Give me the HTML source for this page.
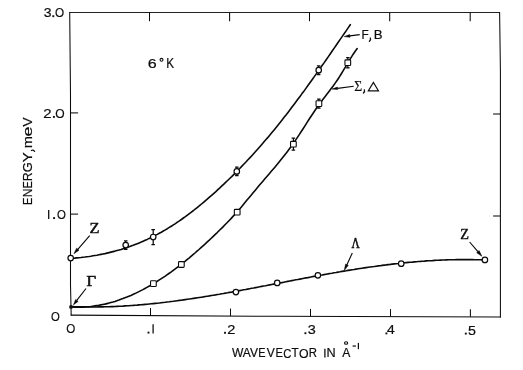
<!DOCTYPE html>
<html><head><meta charset="utf-8">
<style>
html,body{margin:0;padding:0;background:#fff;}
body{width:523px;height:370px;overflow:hidden;}
svg{display:block;filter:grayscale(1);}
text{fill:#0d0d0d;stroke:#0d0d0d;stroke-width:0.2;}
.fr{stroke:#0a0a0a;stroke-width:1.05;fill:none;}
.cv{stroke:#0a0a0a;stroke-width:1.6;fill:none;stroke-linecap:round;stroke-linejoin:round;}
.mk{stroke:#0a0a0a;stroke-width:1.2;fill:#fff;}
.eb{stroke:#0a0a0a;stroke-width:1.25;fill:none;}
.ar{stroke:#050505;stroke-width:1.1;}
.ah{fill:#050505;stroke:#050505;stroke-width:0.5;stroke-linejoin:round;}
.bar{stroke:#111;stroke-width:1.3;}
.ring{fill:none;stroke:#111;stroke-width:1.1;}
</style></head><body>
<svg width="523" height="370" viewBox="0 0 523 370">
<rect width="523" height="370" fill="#fff"/>
<path d="M69.7,12.4 L500.0,12.5" class="fr" style="stroke:#222"/><path d="M69.7,12.0 L70.5,95 L70.5,285 L71.2,315.6" class="fr"/><path d="M499.6,12.0 L500.4,70 L500.4,317.4" class="fr"/><path d="M70.7,315.1 L275,316.3 L500.9,316.9" class="fr"/><line x1="149.5" y1="12.4" x2="149.5" y2="21.2" class="fr"/><line x1="150.5" y1="315.6" x2="150.5" y2="308.1" class="fr"/><line x1="229.6" y1="12.4" x2="229.6" y2="21.2" class="fr"/><line x1="230.5" y1="316.0" x2="230.5" y2="308.5" class="fr"/><line x1="309.5" y1="12.4" x2="309.5" y2="21.2" class="fr"/><line x1="310.5" y1="316.4" x2="310.5" y2="308.9" class="fr"/><line x1="389.7" y1="12.4" x2="389.7" y2="21.2" class="fr"/><line x1="390.5" y1="316.6" x2="390.5" y2="309.1" class="fr"/><line x1="470.2" y1="12.4" x2="470.2" y2="21.2" class="fr"/><line x1="470.4" y1="316.8" x2="470.4" y2="309.3" class="fr"/><line x1="70.5" y1="112.9" x2="78.1" y2="112.9" class="fr"/><line x1="500.4" y1="114.0" x2="493.1" y2="114.0" class="fr"/><line x1="70.5" y1="214.1" x2="78.1" y2="214.1" class="fr"/><line x1="500.4" y1="216.0" x2="493.1" y2="216.0" class="fr"/>
<path d="M70.8,258.4 L72.8,258.2 L74.8,258.1 L76.8,257.9 L78.8,257.7 L80.9,257.5 L82.9,257.2 L84.9,257.0 L86.9,256.7 L88.9,256.5 L90.9,256.2 L92.9,255.8 L94.9,255.5 L96.9,255.2 L99.0,254.8 L101.0,254.4 L103.0,254.0 L105.0,253.6 L107.0,253.1 L109.0,252.6 L111.0,252.1 L113.0,251.6 L115.0,251.1 L117.0,250.5 L119.1,250.0 L121.1,249.4 L123.1,248.7 L125.1,248.1 L127.1,247.4 L129.1,246.7 L131.1,246.0 L133.1,245.3 L135.1,244.5 L137.2,243.7 L139.2,242.9 L141.2,242.1 L143.2,241.2 L145.2,240.3 L147.2,239.4 L149.2,238.4 L151.2,237.5 L153.2,236.5 L155.3,235.4 L157.3,234.4 L159.3,233.3 L161.3,232.2 L163.3,231.0 L165.3,229.9 L167.3,228.7 L169.3,227.4 L171.3,226.2 L173.4,224.9 L175.4,223.6 L177.4,222.2 L179.4,220.9 L181.4,219.5 L183.4,218.0 L185.4,216.6 L187.4,215.1 L189.4,213.6 L191.4,212.1 L193.5,210.5 L195.5,208.9 L197.5,207.3 L199.5,205.7 L201.5,204.0 L203.5,202.3 L205.5,200.6 L207.5,198.9 L209.5,197.1 L211.6,195.4 L213.6,193.6 L215.6,191.8 L217.6,189.9 L219.6,188.1 L221.6,186.2 L223.6,184.3 L225.6,182.4 L227.6,180.5 L229.7,178.5 L231.7,176.6 L233.7,174.6 L235.7,172.6 L237.7,170.5 L239.7,168.5 L241.7,166.4 L243.7,164.3 L245.7,162.2 L247.7,160.0 L249.8,157.9 L251.8,155.7 L253.8,153.5 L255.8,151.3 L257.8,149.0 L259.8,146.7 L261.8,144.4 L263.8,142.1 L265.8,139.8 L267.9,137.4 L269.9,135.0 L271.9,132.6 L273.9,130.2 L275.9,127.7 L277.9,125.2 L279.9,122.7 L281.9,120.2 L283.9,117.6 L286.0,115.0 L288.0,112.4 L290.0,109.8 L292.0,107.1 L294.0,104.5 L296.0,101.8 L298.0,99.1 L300.0,96.4 L302.0,93.6 L304.1,90.9 L306.1,88.1 L308.1,85.3 L310.1,82.5 L312.1,79.7 L314.1,76.9 L316.1,74.1 L318.1,71.2 L320.1,68.4 L322.1,65.5 L324.2,62.6 L326.2,59.7 L328.2,56.9 L330.2,54.0 L332.2,51.0 L334.2,48.1 L336.2,45.2 L338.2,42.3 L340.2,39.4 L342.3,36.4 L344.3,33.5 L346.3,30.6 L348.3,27.6 L350.3,24.7" class="cv"/>
<path d="M70.8,306.9 L72.8,307.0 L74.8,307.1 L76.8,307.1 L78.8,307.2 L80.8,307.1 L82.8,307.1 L84.8,307.0 L86.8,306.8 L88.8,306.7 L90.8,306.5 L92.8,306.2 L94.8,305.9 L96.8,305.6 L98.8,305.3 L100.8,304.9 L102.8,304.5 L104.8,304.1 L106.9,303.6 L108.9,303.1 L110.9,302.5 L112.9,302.0 L114.9,301.4 L116.9,300.7 L118.9,300.1 L120.9,299.3 L122.9,298.6 L124.9,297.8 L126.9,297.1 L128.9,296.2 L130.9,295.4 L132.9,294.5 L134.9,293.6 L136.9,292.6 L138.9,291.6 L140.9,290.6 L142.9,289.6 L144.9,288.5 L146.9,287.4 L148.9,286.3 L150.9,285.1 L152.9,284.0 L154.9,282.7 L156.9,281.5 L158.9,280.2 L160.9,278.9 L162.9,277.6 L164.9,276.3 L166.9,274.9 L168.9,273.5 L170.9,272.1 L172.9,270.6 L174.9,269.1 L176.9,267.6 L179.0,266.1 L181.0,264.5 L183.0,263.0 L185.0,261.4 L187.0,259.7 L189.0,258.1 L191.0,256.4 L193.0,254.7 L195.0,253.0 L197.0,251.2 L199.0,249.5 L201.0,247.7 L203.0,245.9 L205.0,244.1 L207.0,242.2 L209.0,240.4 L211.0,238.5 L213.0,236.6 L215.0,234.7 L217.0,232.8 L219.0,230.8 L221.0,228.8 L223.0,226.9 L225.0,224.8 L227.0,222.8 L229.0,220.7 L231.0,218.6 L233.0,216.4 L235.0,214.2 L237.0,212.0 L239.0,209.7 L241.0,207.4 L243.0,205.0 L245.0,202.6 L247.0,200.1 L249.0,197.7 L251.1,195.3 L253.1,192.8 L255.1,190.4 L257.1,188.0 L259.1,185.6 L261.1,183.2 L263.1,180.9 L265.1,178.5 L267.1,176.2 L269.1,173.9 L271.1,171.6 L273.1,169.2 L275.1,166.9 L277.1,164.5 L279.1,162.1 L281.1,159.6 L283.1,157.1 L285.1,154.6 L287.1,152.0 L289.1,149.3 L291.1,146.6 L293.1,143.8 L295.1,140.9 L297.1,137.9 L299.1,134.9 L301.1,131.8 L303.1,128.7 L305.1,125.6 L307.1,122.4 L309.1,119.3 L311.1,116.2 L313.1,113.2 L315.1,110.2 L317.1,107.3 L319.1,104.4 L321.1,101.7 L323.2,99.0 L325.2,96.4 L327.2,93.8 L329.2,91.2 L331.2,88.6 L333.2,85.9 L335.2,83.1 L337.2,80.2 L339.2,77.2 L341.2,74.0 L343.2,70.7 L345.2,67.3 L347.2,64.0 L349.2,60.6 L351.2,57.4 L353.2,54.2 L355.2,51.3 L357.2,48.6" class="cv"/>
<path d="M70.8,306.6 L72.8,306.6 L74.8,306.7 L76.8,306.8 L78.8,306.8 L80.8,306.9 L82.9,306.9 L84.9,306.9 L86.9,307.0 L88.9,307.0 L90.9,307.0 L92.9,307.0 L94.9,307.0 L96.9,307.0 L98.9,306.9 L100.9,306.9 L102.9,306.9 L105.0,306.8 L107.0,306.8 L109.0,306.7 L111.0,306.6 L113.0,306.6 L115.0,306.5 L117.0,306.4 L119.0,306.3 L121.0,306.2 L123.0,306.1 L125.0,305.9 L127.1,305.8 L129.1,305.7 L131.1,305.5 L133.1,305.4 L135.1,305.2 L137.1,305.1 L139.1,304.9 L141.1,304.8 L143.1,304.6 L145.1,304.4 L147.2,304.2 L149.2,304.0 L151.2,303.8 L153.2,303.6 L155.2,303.4 L157.2,303.2 L159.2,303.0 L161.2,302.7 L163.2,302.5 L165.2,302.3 L167.2,302.0 L169.3,301.8 L171.3,301.5 L173.3,301.3 L175.3,301.0 L177.3,300.7 L179.3,300.4 L181.3,300.2 L183.3,299.9 L185.3,299.6 L187.3,299.3 L189.3,299.0 L191.4,298.7 L193.4,298.4 L195.4,298.1 L197.4,297.8 L199.4,297.5 L201.4,297.2 L203.4,296.9 L205.4,296.5 L207.4,296.2 L209.4,295.9 L211.4,295.5 L213.5,295.2 L215.5,294.9 L217.5,294.5 L219.5,294.2 L221.5,293.8 L223.5,293.5 L225.5,293.1 L227.5,292.8 L229.5,292.4 L231.5,292.1 L233.5,291.7 L235.6,291.3 L237.6,291.0 L239.6,290.6 L241.6,290.2 L243.6,289.8 L245.6,289.5 L247.6,289.1 L249.6,288.7 L251.6,288.3 L253.6,288.0 L255.6,287.6 L257.7,287.2 L259.7,286.8 L261.7,286.4 L263.7,286.0 L265.7,285.7 L267.7,285.3 L269.7,284.9 L271.7,284.5 L273.7,284.1 L275.7,283.7 L277.8,283.3 L279.8,282.9 L281.8,282.6 L283.8,282.2 L285.8,281.8 L287.8,281.4 L289.8,281.0 L291.8,280.6 L293.8,280.2 L295.8,279.8 L297.8,279.5 L299.9,279.1 L301.9,278.7 L303.9,278.3 L305.9,277.9 L307.9,277.6 L309.9,277.2 L311.9,276.8 L313.9,276.4 L315.9,276.1 L317.9,275.7 L319.9,275.3 L322.0,275.0 L324.0,274.6 L326.0,274.2 L328.0,273.9 L330.0,273.5 L332.0,273.2 L334.0,272.8 L336.0,272.5 L338.0,272.1 L340.0,271.8 L342.0,271.4 L344.1,271.1 L346.1,270.8 L348.1,270.4 L350.1,270.1 L352.1,269.8 L354.1,269.5 L356.1,269.1 L358.1,268.8 L360.1,268.5 L362.1,268.2 L364.1,267.9 L366.2,267.6 L368.2,267.3 L370.2,267.0 L372.2,266.7 L374.2,266.5 L376.2,266.2 L378.2,265.9 L380.2,265.7 L382.2,265.4 L384.2,265.1 L386.2,264.9 L388.3,264.6 L390.3,264.4 L392.3,264.1 L394.3,263.9 L396.3,263.7 L398.3,263.5 L400.3,263.2 L402.3,263.0 L404.3,262.8 L406.3,262.6 L408.3,262.4 L410.4,262.2 L412.4,262.1 L414.4,261.9 L416.4,261.7 L418.4,261.5 L420.4,261.4 L422.4,261.2 L424.4,261.1 L426.4,260.9 L428.4,260.8 L430.5,260.7 L432.5,260.6 L434.5,260.4 L436.5,260.3 L438.5,260.2 L440.5,260.1 L442.5,260.0 L444.5,260.0 L446.5,259.9 L448.5,259.8 L450.5,259.8 L452.6,259.7 L454.6,259.7 L456.6,259.6 L458.6,259.6 L460.6,259.6 L462.6,259.6 L464.6,259.6 L466.6,259.6 L468.6,259.6 L470.6,259.6 L472.6,259.6 L474.7,259.7 L476.7,259.7 L478.7,259.8 L480.7,259.8 L482.7,259.9 L484.7,260.0" class="cv"/>
<circle cx="71.0" cy="306.9" r="1.9" fill="#111"/>
<circle cx="70.7" cy="258.1" r="2.75" class="mk"/><path d="M125.7,240.8 V249.4 M124.0,240.8 H127.5 M124.0,249.4 H127.5" class="eb"/><circle cx="125.7" cy="245.1" r="2.75" class="mk"/><path d="M153.2,229.5 V244.5 M151.4,229.5 H154.9 M151.4,244.5 H154.9" class="eb"/><circle cx="153.2" cy="237.0" r="2.75" class="mk"/><path d="M236.8,167.2 V175.6 M235.1,167.2 H238.6 M235.1,175.6 H238.6" class="eb"/><circle cx="236.8" cy="171.4" r="2.75" class="mk"/><path d="M318.7,65.8 V74.6 M316.9,65.8 H320.4 M316.9,74.6 H320.4" class="eb"/><circle cx="318.7" cy="70.2" r="2.75" class="mk"/><rect x="150.55" y="280.75" width="5.7" height="5.7" rx="0.8" class="mk" style="stroke-width:1.1"/><rect x="178.50" y="261.65" width="5.7" height="5.7" rx="0.8" class="mk" style="stroke-width:1.1"/><rect x="234.35" y="209.35" width="5.7" height="5.7" rx="0.8" class="mk" style="stroke-width:1.1"/><path d="M293.4,138.1 V150.2 M291.6,138.1 H295.1 M291.6,150.2 H295.1" class="eb"/><rect x="290.55" y="141.35" width="5.7" height="5.7" rx="0.8" class="mk" style="stroke-width:1.1"/><path d="M318.9,99.0 V108.2 M317.1,99.0 H320.6 M317.1,108.2 H320.6" class="eb"/><rect x="316.05" y="100.75" width="5.7" height="5.7" rx="0.8" class="mk" style="stroke-width:1.1"/><path d="M347.8,57.6 V67.8 M346.1,57.6 H349.6 M346.1,67.8 H349.6" class="eb"/><rect x="344.95" y="59.85" width="5.7" height="5.7" rx="0.8" class="mk" style="stroke-width:1.1"/><circle cx="235.9" cy="292.1" r="2.75" class="mk"/><circle cx="277.2" cy="282.9" r="2.75" class="mk"/><circle cx="317.9" cy="275.3" r="2.75" class="mk"/><circle cx="401.2" cy="263.7" r="2.75" class="mk"/><circle cx="484.9" cy="259.9" r="2.75" class="mk"/><line x1="89.7" y1="235.7" x2="77.8" y2="249.3" class="ar"/><polygon points="73.9,253.7 76.6,248.2 79.0,250.3" class="ah"/><line x1="86.0" y1="288.5" x2="76.8" y2="300.4" class="ar"/><polygon points="73.5,304.8 75.6,299.5 78.1,301.4" class="ah"/><line x1="359.7" y1="34.6" x2="349.9" y2="35.9" class="ar"/><polygon points="344.2,36.6 349.7,34.5 350.0,37.3" class="ah"/><line x1="353.7" y1="86.3" x2="337.6" y2="88.4" class="ar"/><polygon points="332.0,89.1 337.4,87.1 337.7,89.6" class="ah"/><line x1="352.3" y1="253.0" x2="346.9" y2="264.7" class="ar"/><polygon points="344.2,270.6 345.6,264.1 348.3,265.3" class="ah"/><line x1="469.6" y1="242.0" x2="477.9" y2="251.6" class="ar"/><polygon points="481.8,256.2 476.7,252.7 479.1,250.6" class="ah"/><text transform="translate(43.64,17.00) scale(1.068,1)" font-size="13.14" font-family="Liberation Sans">3</text>
<text transform="translate(54.91,17.00) scale(0.895,1)" font-size="13.14" font-family="Liberation Sans">O</text>
<text transform="translate(43.35,117.70) scale(1.141,1)" font-size="13.14" font-family="Liberation Sans">2</text>
<text transform="translate(55.20,117.70) scale(0.918,1)" font-size="13.14" font-family="Liberation Sans">O</text>
<text transform="translate(57.03,219.00) scale(0.873,1)" font-size="13.14" font-family="Liberation Sans">O</text>
<text transform="translate(50.93,320.50) scale(0.871,1)" font-size="13.00" font-family="Liberation Sans">O</text>
<text transform="translate(66.32,333.00) scale(0.894,1)" font-size="13.00" font-family="Liberation Sans">O</text>
<text transform="translate(227.37,333.60) scale(1.133,1)" font-size="12.86" font-family="Liberation Sans">2</text>
<text transform="translate(307.82,334.10) scale(1.101,1)" font-size="13.14" font-family="Liberation Sans">3</text>
<text transform="translate(387.02,334.10) scale(1.130,1)" font-size="12.32" font-family="Liberation Sans">4</text>
<text transform="translate(467.93,334.50) scale(1.069,1)" font-size="13.33" font-family="Liberation Sans">5</text>
<text transform="translate(231.88,357.40) scale(0.955,1)" font-size="12.61" font-family="Liberation Sans">WAV</text>
<text transform="translate(258.23,357.40) scale(0.867,1)" font-size="12.61" font-family="Liberation Sans">E</text>
<text transform="translate(266.78,357.40) scale(0.952,1)" font-size="12.61" font-family="Liberation Sans">V</text>
<text transform="translate(275.41,357.40) scale(0.881,1)" font-size="12.61" font-family="Liberation Sans">E</text>
<text transform="translate(283.34,357.50) scale(0.886,1)" font-size="12.71" font-family="Liberation Sans">C</text>
<text transform="translate(291.46,357.40) scale(0.932,1)" font-size="12.61" font-family="Liberation Sans">T</text>
<text transform="translate(298.98,357.50) scale(0.972,1)" font-size="12.71" font-family="Liberation Sans">O</text>
<text transform="translate(308.79,357.40) scale(0.901,1)" font-size="12.61" font-family="Liberation Sans">R</text>
<text transform="translate(326.59,357.40) scale(1.006,1)" font-size="12.61" font-family="Liberation Sans">N</text>
<text transform="translate(342.30,357.40) scale(0.973,1)" font-size="12.46" font-family="Liberation Sans">A</text>
<text transform="translate(147.80,67.70) scale(1.185,1)" font-size="13.57" font-family="Liberation Sans">6</text>
<text transform="translate(166.26,67.70) scale(0.854,1)" font-size="13.77" font-family="Liberation Sans">K</text>
<text transform="translate(361.45,38.60) scale(0.972,1)" font-size="12.17" font-family="Liberation Sans">F</text>
<text transform="translate(373.64,38.60) scale(1.085,1)" font-size="12.17" font-family="Liberation Sans">B</text>
<text transform="translate(354.15,90.80) scale(0.999,1)" font-size="13.69" font-family="Liberation Serif">Σ</text>
<text transform="translate(89.58,232.70) scale(1.139,1)" font-size="14.46" font-family="Liberation Serif" style="stroke-width:0.4">Z</text>
<text transform="translate(86.60,285.60) scale(1.120,1)" font-size="14.77" font-family="Liberation Serif" style="stroke-width:0.55">Γ</text>
<text transform="translate(351.59,247.50) scale(0.810,1)" font-size="13.94" font-family="Liberation Serif" style="stroke-width:0.55">Λ</text>
<text transform="translate(460.18,239.40) scale(0.940,1)" font-size="15.23" font-family="Liberation Serif" style="stroke-width:0.4">Z</text>
<g transform="translate(32.0,204.05) rotate(-90)"><text transform="translate(-0.88,0.00) scale(0.874,1)" font-size="12.61" font-family="Liberation Sans">E</text>
<text transform="translate(6.78,0.00) scale(0.963,1)" font-size="12.61" font-family="Liberation Sans">N</text>
<text transform="translate(15.48,0.00) scale(0.867,1)" font-size="12.61" font-family="Liberation Sans">E</text>
<text transform="translate(22.77,0.00) scale(0.968,1)" font-size="12.61" font-family="Liberation Sans">R</text>
<text transform="translate(31.80,0.00) scale(1.016,1)" font-size="12.71" font-family="Liberation Sans">G</text>
<text transform="translate(41.90,0.00) scale(1.183,1)" font-size="12.61" font-family="Liberation Sans">Y</text>
<text transform="translate(55.83,0.00) scale(1.192,1)" font-size="12.22" font-family="Liberation Sans">m</text>
<text transform="translate(67.64,0.00) scale(1.440,1)" font-size="12.41" font-family="Liberation Sans">e</text>
<text transform="translate(77.41,0.00) scale(1.110,1)" font-size="12.61" font-family="Liberation Sans">V</text>
<path d="M53.6,-0.6 q0.9,1.6 -0.9,3.2" stroke="#111" stroke-width="1.3" fill="none" stroke-linecap="round"/></g><path d="M370.3,38.0 q0.9,1.6 -0.9,3.2" stroke="#111" stroke-width="1.3" fill="none" stroke-linecap="round"/><path d="M364.3,89.8 q0.9,1.6 -0.9,3.2" stroke="#111" stroke-width="1.3" fill="none" stroke-linecap="round"/><rect x="52.35" y="15.25" width="1.90" height="1.90" fill="#111"/><rect x="52.95" y="115.95" width="1.90" height="1.90" fill="#111"/><rect x="53.15" y="217.15" width="1.90" height="1.90" fill="#111"/><rect x="147.55" y="331.65" width="1.90" height="1.90" fill="#111"/><rect x="224.05" y="331.85" width="1.90" height="1.90" fill="#111"/><rect x="304.45" y="332.25" width="1.90" height="1.90" fill="#111"/><rect x="385.45" y="332.45" width="1.90" height="1.90" fill="#111"/><rect x="464.85" y="332.65" width="1.90" height="1.90" fill="#111"/><line x1="324.9" y1="348.7" x2="324.9" y2="357.4" class="bar"/><line x1="48.7" y1="209.9" x2="48.7" y2="218.9" class="bar"/><line x1="153.1" y1="324.3" x2="153.1" y2="333.4" class="bar"/><line x1="358.4" y1="342.9" x2="358.4" y2="349.2" class="bar" style="stroke-width:1.25"/><line x1="352.6" y1="346.05" x2="355.9" y2="346.05" class="bar" style="stroke-width:1.25"/><ellipse cx="346.1" cy="343.0" rx="1.6" ry="1.3" class="ring"/><circle cx="161.5" cy="59.8" r="1.45" class="ring"/><path d="M368.3,90.9 L373.4,82.4 L378.5,90.9 Z" fill="none" stroke="#111" stroke-width="1.15" stroke-linejoin="miter"/>
</svg>
</body></html>
